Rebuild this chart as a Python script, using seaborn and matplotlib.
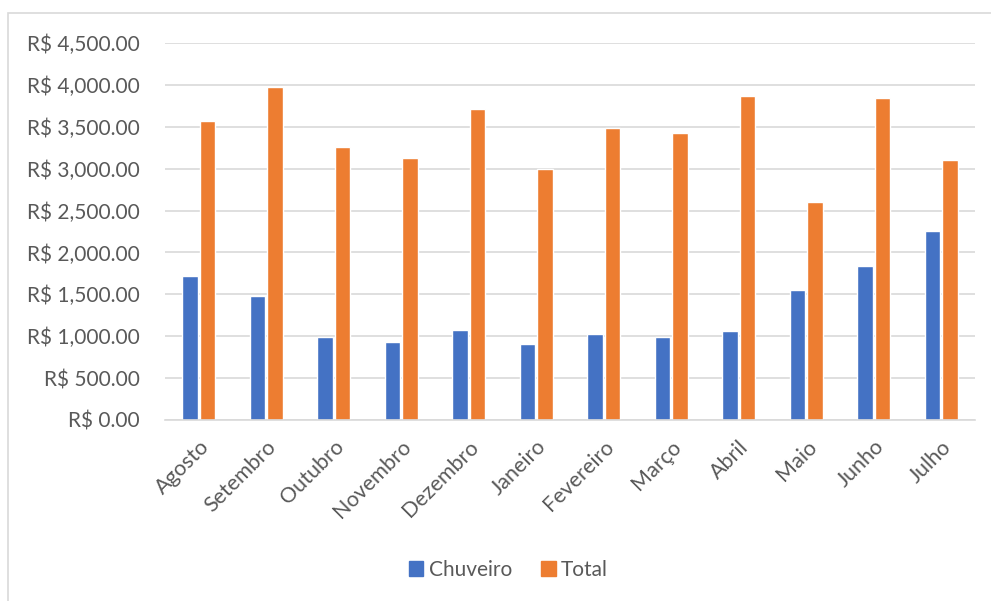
#!/usr/bin/env python
# ------------------------------------------------------
# Monthly costs: shower (Chuveiro) vs total
# - Creates "out.png"
# ------------------------------------------------------
import matplotlib.pyplot as plt
import matplotlib.patches as mpatches
import matplotlib.ticker as mticker
import pandas as pd
import seaborn as sns

meses = ["Agosto", "Setembro", "Outubro", "Novembro", "Dezembro", "Janeiro",
         "Fevereiro", "Março", "Abril", "Maio", "Junho", "Julho"]
chuveiro = [1724, 1481, 991, 928, 1079, 912, 1023, 991, 1063, 1557, 1843, 2253]
total = [3571, 3977, 3260, 3125, 3710, 2998, 3491, 3420, 3865, 2607, 3842, 3101]
series = ["Chuveiro", "Total"]
cores = ["#4472C4", "#ED7D31"]

df = pd.DataFrame({"mes": meses * 2,
                   "valor": chuveiro + total,
                   "serie": [series[0]] * 12 + [series[1]] * 12})

sns.set_theme(style="white")
plt.rcParams["font.family"] = ["Lato", "DejaVu Sans"]
texto = "#595959"

fig = plt.figure(figsize=(9.91, 6.01), dpi=100)
ax = fig.add_axes([165 / 991, 1 - 420 / 601, 810 / 991, 377 / 601])

sns.barplot(data=df, x="mes", y="valor", hue="serie", palette=cores,
            width=0.52, gap=0.1, ax=ax, legend=False, saturation=1)

ax.set_ylim(0, 4500)
ax.set_xlim(-0.5, 11.5)
ax.yaxis.set_major_locator(mticker.MultipleLocator(500))
ax.yaxis.set_major_formatter(mticker.FuncFormatter(lambda v, p: f"R$ {v:,.2f}"))
ax.grid(axis="y", color="#D9D9D9", linewidth=1.2)
ax.set_axisbelow(True)
for s in ["top", "right", "left"]:
    ax.spines[s].set_visible(False)
ax.spines["bottom"].set_color("#D9D9D9")
ax.spines["bottom"].set_linewidth(1.2)
ax.set_xlabel("")
ax.set_ylabel("")
ax.tick_params(axis="y", length=0, pad=18, labelsize=15, labelcolor=texto)
ax.tick_params(axis="x", length=0, pad=12, labelsize=15.5, labelcolor=texto)
for lbl in ax.get_xticklabels():
    lbl.set_rotation(45)
    lbl.set_ha("right")
    lbl.set_rotation_mode("anchor")

handles = [mpatches.Patch(color=c, label=s) for c, s in zip(cores, series)]
fig.legend(handles=handles, loc="center", bbox_to_anchor=(0.513, 1 - 570 / 601),
           ncol=2, frameon=False, fontsize=15, labelcolor=texto,
           handlelength=0.7, handleheight=0.7, handletextpad=0.25, columnspacing=1.4)

# light frame around the chart area
fig.patches.append(mpatches.Rectangle((8 / 991, -0.1), 1.1, 1 - 13 / 601 + 0.1,
                                      transform=fig.transFigure, fill=False,
                                      edgecolor="#D9D9D9", linewidth=1.2))

fig.savefig("out.png", dpi=100)
plt.close()
